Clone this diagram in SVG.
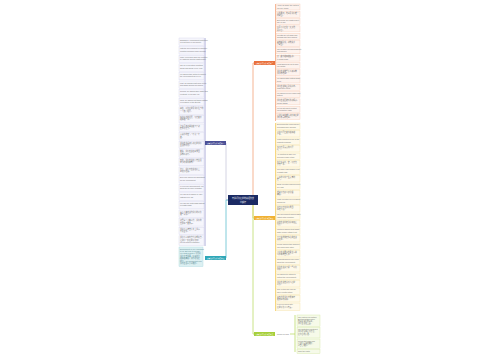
<svg xmlns="http://www.w3.org/2000/svg" width="500" height="360" viewBox="0 0 500 360">
<style>
text{font-family:"Liberation Sans","Noto Sans CJK SC",sans-serif;font-size:1.8px;fill:#707070}
.t{font-size:2px;fill:#fff}
.p rect{fill:#f6f6fc;stroke:#d4d4ec;stroke-width:0.4}
.o rect{fill:#fdf3ee;stroke:#f6c9b2;stroke-width:0.4}
.y rect{fill:#fef9ea;stroke:#f6dfa0;stroke-width:0.4}
.g rect{fill:#f6fae9;stroke:#d3e6a0;stroke-width:0.4}
.c{fill:none;stroke-width:0.8}
</style>
<rect width="500" height="360" fill="#fff"/>
<g id="connectors">
<path class="c" stroke="#c9c9dc" d="M228 200 H226 V143"/>
<path class="c" stroke="#5fbfcf" d="M228 200 H226 V258"/>
<path class="c" stroke="#f3a27a" d="M253 197 V63 H254"/>
<path class="c" stroke="#f5cc5a" d="M253 203 V218 H254"/>
<path class="c" stroke="#bcdc6a" d="M253 205 V334 H254"/>
<path class="c" stroke="#9a9ad0" d="M205 38 V246"/>
<path class="c" stroke="#f3a27a" d="M275.5 4 V121"/>
<path class="c" stroke="#f5cc5a" d="M275.5 123 V311"/>
<path class="c" stroke="#bcdc6a" d="M295 315 V352 M290 334 H295"/>
</g>
<g id="center">
<rect x="228" y="195" width="30" height="10" fill="#1b2a63"/>
<text class="t" x="243" y="199.3" text-anchor="middle">有关环境保护的英语作文</text>
<text class="t" x="243" y="202.6" text-anchor="middle">带翻译</text>
</g>
<g id="node-left1">
<rect x="205" y="141" width="21" height="4" fill="#4b4f96"/>
<text class="t" x="215.5" y="143.7" text-anchor="middle" style="font-size:1.6px">环境保护英语作文范文一</text>
</g>
<g id="node-left2">
<rect x="205" y="256" width="21" height="4" fill="#2fa7b8"/>
<text class="t" x="215.5" y="258.7" text-anchor="middle" style="font-size:1.6px">环境保护英语作文范文二</text>
</g>
<g id="node-orange">
<rect x="254" y="61" width="21" height="4" fill="#e9713d"/>
<text class="t" x="264.5" y="63.7" text-anchor="middle" style="font-size:1.6px">环境保护英语作文范文三</text>
</g>
<g id="node-gold">
<rect x="254" y="216" width="21" height="4" fill="#f0b132"/>
<text class="t" x="264.5" y="218.7" text-anchor="middle" style="font-size:1.6px">环境保护英语作文范文四</text>
</g>
<g id="node-green">
<rect x="254" y="332" width="21" height="4" fill="#a6cf3a"/>
<text class="t" x="264.5" y="334.7" text-anchor="middle" style="font-size:1.6px">环境保护英语作文范文五</text>
<text x="277" y="334.6" style="font-size:1.6px">Protect our earth</text>
</g>
<g id="left1-items" class="p">
<rect x="179" y="38" width="25" height="7.5"/><text x="180" y="40.6">Nowadays, environment protection</text><text x="180" y="43">is a hot topic in our society.</text>
<rect x="179" y="46.6" width="25" height="7.5"/><text x="180" y="49.2">With the development of economy,</text><text x="180" y="51.6">pollution becomes more serious.</text>
<rect x="179" y="55.2" width="25" height="7.5"/><text x="180" y="57.8">Many rivers and lakes are polluted</text><text x="180" y="60.2">by factories and the waste water.</text>
<rect x="179" y="63.8" width="25" height="7.5"/><text x="180" y="66.4">The air in big cities is getting</text><text x="180" y="68.8">worse and worse every year.</text>
<rect x="179" y="72.4" width="25" height="7.5"/><text x="180" y="75">We should take action to protect</text><text x="180" y="77.4">the environment we live in.</text>
<rect x="179" y="81" width="25" height="7.5"/><text x="180" y="83.6">First, we should plant more trees</text><text x="180" y="86">and grass around our homes.</text>
<rect x="179" y="89.6" width="25" height="7.5"/><text x="180" y="92.2">Second, we should save water and</text><text x="180" y="94.6">electricity in our daily life.</text>
<rect x="179" y="98.2" width="25" height="7.5"/><text x="180" y="100.8">Third, we should not throw rubbish</text><text x="180" y="103.2">everywhere in the streets.</text>
<rect x="179" y="106.8" width="25" height="7.5"/><text x="180" y="109.4">现在，环境保护是我们社会的</text><text x="180" y="111.8">一个热门话题。</text>
<rect x="179" y="115.4" width="25" height="7.5"/><text x="180" y="118">随着经济的发展，污染变得</text><text x="180" y="120.4">越来越严重。</text>
<rect x="179" y="124" width="25" height="7.5"/><text x="180" y="126.6">许多河流和湖泊被工厂和</text><text x="180" y="129">废水污染了。</text>
<rect x="179" y="132.6" width="25" height="7.5"/><text x="180" y="135.2">大城市的空气一年比一年</text><text x="180" y="137.6">差。</text>
<rect x="179" y="141.2" width="25" height="7.5"/><text x="180" y="143.8">我们应该采取行动保护我们</text><text x="180" y="146.2">生活的环境。</text>
<rect x="179" y="149.8" width="25" height="7.5"/><text x="180" y="152.4">首先，我们应该在家周围</text><text x="180" y="154.8">多种树和草。</text>
<rect x="179" y="158.4" width="25" height="7.5"/><text x="180" y="161">其次，我们应该在日常生活</text><text x="180" y="163.4">中节约用水用电。</text>
<rect x="179" y="167" width="25" height="7.5"/><text x="180" y="169.6">第三，我们不应该在街上</text><text x="180" y="172">到处扔垃圾。</text>
<rect x="179" y="175.6" width="25" height="7.5"/><text x="180" y="178.2">Everyone should do something</text><text x="180" y="180.6">for our environment.</text>
<rect x="179" y="184.2" width="25" height="7.5"/><text x="180" y="186.8">If everyone does his best, our</text><text x="180" y="189.2">world will be more beautiful.</text>
<rect x="179" y="192.8" width="25" height="7.5"/><text x="180" y="195.4">We can go to school by bike</text><text x="180" y="197.8">instead of by car.</text>
<rect x="179" y="201.4" width="25" height="7.5"/><text x="180" y="204">We can use cloth bags instead</text><text x="180" y="206.4">of plastic bags.</text>
<rect x="179" y="210" width="25" height="7.5"/><text x="180" y="212.6">每个人都应该为我们的环境</text><text x="180" y="215">做些事情。</text>
<rect x="179" y="218.6" width="25" height="7.5"/><text x="180" y="221.2">如果每个人都尽力，我们的</text><text x="180" y="223.6">世界将会更美丽。</text>
<rect x="179" y="227.2" width="25" height="7.5"/><text x="180" y="229.8">我们可以骑自行车上学而</text><text x="180" y="232.2">不是坐车。</text>
<rect x="179" y="235.8" width="25" height="9.5"/><text x="180" y="238.4">我们可以用布袋代替塑料袋。</text><text x="180" y="240.8">让我们一起保护环境吧！</text><text x="180" y="243.2">Let us protect it together.</text>
</g>
<g id="left2-items">
<rect x="179" y="247" width="24" height="19.5" fill="#dcf0f2" stroke="#a8d8de" stroke-width="0.4"/>
<text x="180" y="249.6" style="fill:#5a8a92">Environment is very important</text>
<text x="180" y="252" style="fill:#5a8a92">to us. But now it is worse.</text>
<text x="180" y="254.4" style="fill:#5a8a92">We must protect it. 环境对</text>
<text x="180" y="256.8" style="fill:#5a8a92">我们非常重要，但现在它</text>
<text x="180" y="259.2" style="fill:#5a8a92">越来越糟糕。我们必须保</text>
<text x="180" y="261.6" style="fill:#5a8a92">护它。We should start now.</text>
<text x="180" y="264" style="fill:#5a8a92">我们应该从小事做起。</text>
</g>
<g id="orange-items" class="o">
<rect x="276" y="4" width="24" height="6"/><text x="277" y="6.3">As we all know, the earth is</text><text x="277" y="8.6">our only home.</text>
<rect x="276" y="11.3" width="24" height="6"/><text x="277" y="13.6">众所周知，地球是我们唯一</text><text x="277" y="15.9">的家园。</text>
<rect x="276" y="18.6" width="24" height="6"/><text x="277" y="20.9">But people are destroying it</text><text x="277" y="23.2">day by day.</text>
<rect x="276" y="25.9" width="24" height="6"/><text x="277" y="28.2">但是人们正在一天天地</text><text x="277" y="30.5">破坏它。</text>
<rect x="276" y="33.2" width="24" height="6"/><text x="277" y="35.5">Forests are cut down and</text><text x="277" y="37.8">animals lose their homes.</text>
<rect x="276" y="40.5" width="24" height="6"/><text x="277" y="42.8">森林被砍伐，动物失去</text><text x="277" y="45.1">了家园。</text>
<rect x="276" y="47.8" width="24" height="6"/><text x="277" y="50.1">The weather becomes warmer</text><text x="277" y="52.4">and warmer.</text>
<rect x="276" y="55.1" width="24" height="6"/><text x="277" y="57.4">天气变得越来越暖和。</text><text x="277" y="59.7">It is bad news.</text>
<rect x="276" y="62.4" width="24" height="6"/><text x="277" y="64.7">What should we do to save</text><text x="277" y="67">our earth?</text>
<rect x="276" y="69.7" width="24" height="6"/><text x="277" y="72">我们应该做些什么来拯救</text><text x="277" y="74.3">我们的地球？</text>
<rect x="276" y="77" width="24" height="6"/><text x="277" y="79.3">We should stop cutting down</text><text x="277" y="81.6">trees.</text>
<rect x="276" y="84.3" width="24" height="6"/><text x="277" y="86.6">我们应该停止砍伐树木。</text><text x="277" y="88.9">Plant more trees.</text>
<rect x="276" y="91.6" width="24" height="6"/><text x="277" y="93.9">We should recycle paper and</text><text x="277" y="96.2">bottles.</text>
<rect x="276" y="98.9" width="24" height="6"/><text x="277" y="101.2">我们应该回收纸张和瓶子。</text><text x="277" y="103.5">Reuse things.</text>
<rect x="276" y="106.2" width="24" height="6"/><text x="277" y="108.5">Let us act now to protect</text><text x="277" y="110.8">our beautiful earth.</text>
<rect x="276" y="113.5" width="24" height="6"/><text x="277" y="115.8">让我们现在就行动起来保护</text><text x="277" y="118.1">我们美丽的地球。</text>
</g>
<g id="gold-items" class="y">
<rect x="276" y="123" width="24" height="6.5"/><text x="277" y="125.4">Environmental problems are</text><text x="277" y="127.8">becoming more serious.</text>
<rect x="276" y="130.5" width="24" height="6.5"/><text x="277" y="132.9">环境问题正变得越来越</text><text x="277" y="135.3">严重。</text>
<rect x="276" y="138" width="24" height="6.5"/><text x="277" y="140.4">Water pollution is one of the</text><text x="277" y="142.8">biggest problems.</text>
<rect x="276" y="145.5" width="24" height="6.5"/><text x="277" y="147.9">水污染是最大的问题</text><text x="277" y="150.3">之一。</text>
<rect x="276" y="153" width="24" height="6.5"/><text x="277" y="155.4">Air pollution is also very</text><text x="277" y="157.8">serious in many cities.</text>
<rect x="276" y="160.5" width="24" height="6.5"/><text x="277" y="162.9">在许多城市，空气污染也</text><text x="277" y="165.3">非常严重。</text>
<rect x="276" y="168" width="24" height="6.5"/><text x="277" y="170.4">Too many cars produce a lot</text><text x="277" y="172.8">of waste gas.</text>
<rect x="276" y="175.5" width="24" height="6.5"/><text x="277" y="177.9">太多的汽车产生大量的</text><text x="277" y="180.3">废气。</text>
<rect x="276" y="183" width="24" height="6.5"/><text x="277" y="185.4">Noise pollution makes people</text><text x="277" y="187.8">feel bad.</text>
<rect x="276" y="190.5" width="24" height="6.5"/><text x="277" y="192.9">噪音污染使人感觉很</text><text x="277" y="195.3">糟糕。</text>
<rect x="276" y="198" width="24" height="6.5"/><text x="277" y="200.4">White pollution is everywhere</text><text x="277" y="202.8">around us.</text>
<rect x="276" y="205.5" width="24" height="6.5"/><text x="277" y="207.9">白色污染在我们周围</text><text x="277" y="210.3">随处可见。</text>
<rect x="276" y="213" width="24" height="6.5"/><text x="277" y="215.4">The government should make</text><text x="277" y="217.8">laws to stop pollution.</text>
<rect x="276" y="220.5" width="24" height="6.5"/><text x="277" y="222.9">政府应该制定法律来阻止</text><text x="277" y="225.3">污染。</text>
<rect x="276" y="228" width="24" height="6.5"/><text x="277" y="230.4">Factories should treat waste</text><text x="277" y="232.8">water before letting it out.</text>
<rect x="276" y="235.5" width="24" height="6.5"/><text x="277" y="237.9">工厂在排放废水之前应该</text><text x="277" y="240.3">先处理。</text>
<rect x="276" y="243" width="24" height="6.5"/><text x="277" y="245.4">People should take buses or</text><text x="277" y="247.8">ride bikes more often.</text>
<rect x="276" y="250.5" width="24" height="6.5"/><text x="277" y="252.9">人们应该更多地乘坐公共</text><text x="277" y="255.3">汽车或骑自行车。</text>
<rect x="276" y="258" width="24" height="6.5"/><text x="277" y="260.4">Students should learn more</text><text x="277" y="262.8">about the environment.</text>
<rect x="276" y="265.5" width="24" height="6.5"/><text x="277" y="267.9">学生应该多了解一些环境</text><text x="277" y="270.3">知识。</text>
<rect x="276" y="273" width="24" height="6.5"/><text x="277" y="275.4">We should tell others to</text><text x="277" y="277.8">protect the environment.</text>
<rect x="276" y="280.5" width="24" height="6.5"/><text x="277" y="282.9">我们应该告诉别人保护</text><text x="277" y="285.3">环境。</text>
<rect x="276" y="288" width="24" height="6.5"/><text x="277" y="290.4">Only in this way can we</text><text x="277" y="292.8">have a better future.</text>
<rect x="276" y="295.5" width="24" height="6.5"/><text x="277" y="297.9">只有这样我们才能拥有</text><text x="277" y="300.3">更美好的未来。</text>
<rect x="276" y="303" width="24" height="7.5"/><text x="277" y="305.4">It is everyone's duty.</text><text x="277" y="307.8">保护环境人人有责。</text>
</g>
<g id="green-items" class="g">
<rect x="297" y="315" width="23" height="11.5"/><text x="298" y="317.5">The earth is our mother.</text><text x="298" y="319.8">But it is getting dirtier.</text><text x="298" y="322.1">地球是我们的母亲，</text><text x="298" y="324.4">我们生活在上面。</text>
<rect x="297" y="327.5" width="23" height="10.5"/><text x="298" y="330">We must stop polluting it.</text><text x="298" y="332.3">我们必须停止污染它，</text><text x="298" y="334.6">保持它的清洁。</text>
<rect x="297" y="339" width="23" height="9.5"/><text x="298" y="341.5">Let us start from now.</text><text x="298" y="343.8">让我们从现在做起，</text><text x="298" y="346.1">从自己做起。</text>
<rect x="297" y="349.5" width="23" height="4"/><text x="298" y="352">Save the earth.</text>
</g>
</svg>
